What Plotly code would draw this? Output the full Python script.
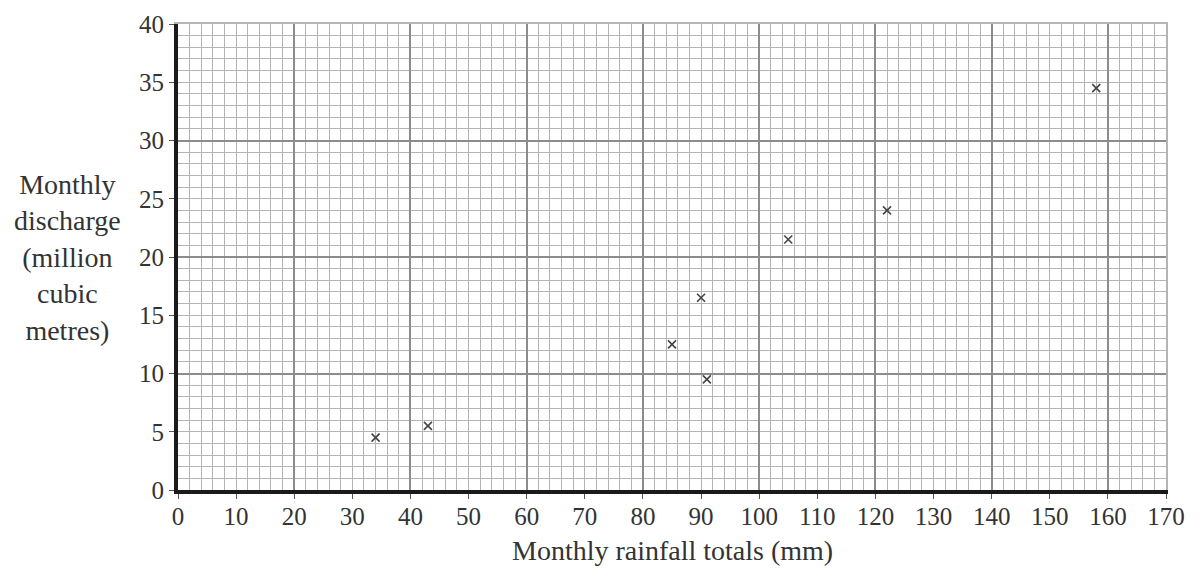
import plotly.graph_objects as go

rainfall = [34, 43, 85, 90, 91, 105, 122, 158]
discharge = [4.5, 5.5, 12.5, 16.5, 9.5, 21.5, 24, 34.5]
x_range = [0, 170]
y_range = [0, 40]

FONT = "Liberation Serif, Times New Roman, serif"
LIGHT = "#b4b4b4"
DARK = "#8c8c8c"

fig = go.Figure()
# invisible helper trace on the overlay axes (heavy grid lines + border)
fig.add_trace(go.Scatter(x=x_range, y=y_range, xaxis="x2", yaxis="y2",
                         mode="markers", marker=dict(opacity=0), hoverinfo="skip",
                         showlegend=False))
fig.add_trace(go.Scatter(x=rainfall, y=discharge, mode="markers",
                         marker=dict(symbol="x-thin", size=8,
                                     line=dict(color="#444444", width=1.6)),
                         showlegend=False))

fig.update_layout(
    width=1183, height=562,
    margin=dict(l=170, r=25, t=16, b=80, autoexpand=False),
    paper_bgcolor="white", plot_bgcolor="white",
    font=dict(family=FONT, size=25, color="#333333"),
    xaxis=dict(range=x_range, dtick=10, tick0=0, showgrid=True, gridcolor=LIGHT, gridwidth=1,
               minor=dict(dtick=2, showgrid=True, gridcolor=LIGHT, gridwidth=1),
               showline=True, linecolor="#1a1a1a", linewidth=4,
               ticks="outside", ticklen=5, tickcolor="#555555", tickwidth=1,
               ticklabelstandoff=-4, automargin=False,
               zeroline=False, fixedrange=True),
    yaxis=dict(range=y_range, dtick=5, tick0=0, showgrid=True, gridcolor=LIGHT, gridwidth=1,
               minor=dict(dtick=1, showgrid=True, gridcolor=LIGHT, gridwidth=1),
               showline=True, linecolor="#1a1a1a", linewidth=4,
               ticks="outside", ticklen=5, tickcolor="#555555", tickwidth=1,
               automargin=False, zeroline=False, fixedrange=True),
    xaxis2=dict(range=x_range, dtick=20, tick0=0, overlaying="x", side="top",
                showgrid=True, gridcolor=DARK, gridwidth=1.5, showticklabels=False,
                ticks="", showline=True, linecolor=LIGHT, linewidth=1.5, zeroline=False,
                automargin=False),
    yaxis2=dict(range=y_range, dtick=10, tick0=0, overlaying="y", side="right",
                showgrid=True, gridcolor=DARK, gridwidth=1.5, showticklabels=False,
                ticks="", showline=True, linecolor=LIGHT, linewidth=1.5, zeroline=False,
                automargin=False),
)

fig.add_annotation(text="Monthly rainfall totals (mm)",
                   xref="paper", yref="paper", x=0.5, y=-0.129, xanchor="center",
                   yanchor="middle", showarrow=False,
                   font=dict(family=FONT, size=28, color="#333333"))
fig.add_annotation(text="Monthly<br>discharge<br>(million<br>cubic<br>metres)",
                   xref="paper", yref="paper", x=-0.112, y=0.5, xanchor="center",
                   yanchor="middle", showarrow=False, align="center",
                   font=dict(family=FONT, size=28, color="#333333"))

fig.write_html("out.html")
